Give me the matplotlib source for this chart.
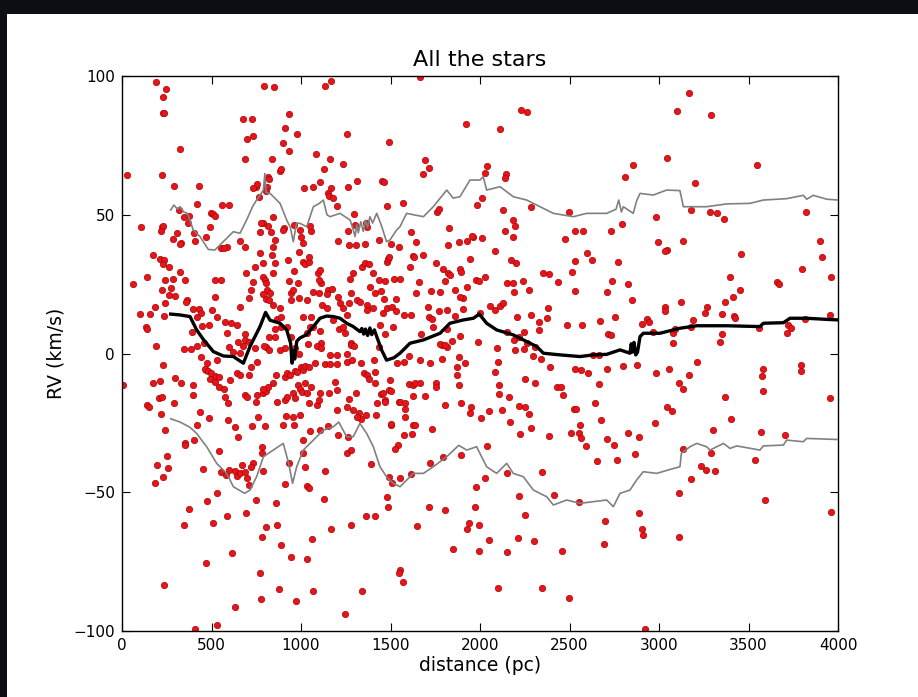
import matplotlib
matplotlib.use("Agg")
import matplotlib.pyplot as plt
from matplotlib.patches import Rectangle

# ---- stars: distance (pc) and radial velocity (km/s), grouped by area ----
dist_a = [30, 190, 231, 227, 235, 246, 223, 324, 290, 430,
          108, 223, 231, 220, 317, 309, 331, 324, 287, 372,
          369, 344, 417, 402, 406, 499, 507, 518, 469, 492,
          559, 596, 588, 659, 685, 674, 726, 696, 734, 685,
          749, 752, 730, 763, 790, 779, 771, 817, 834, 795,
          851, 816, 819, 808, 804, 836, 882, 886, 845, 838,
          857, 907, 897, 897, 912, 935, 935, 976, 961, 994,
          1002, 1017, 1011, 1058, 1050, 1069, 1106, 1084, 1128, 1162,
          1169, 1151, 1158, 1136, 1169, 1181, 1203, 1233, 1255, 1208,
          1261, 1294, 1301, 1263, 1311, 1307, 1357, 1270, 1363, 1367,
          1452, 1463, 1478, 1490, 1437, 1501]
rv_a = [64.3, 97.8, 92.3, 86.8, 86.6, 95.4, 64.3, 73.7, 60.5, 60.5,
        45.6, 45.7, 46.0, 44.3, 51.7, 43.6, 40.0, 39.5, 41.2, 49.7,
        47.0, 49.3, 53.8, 43.6, 40.5, 50.6, 50.1, 49.6, 42.1, 45.7,
        53.4, 53.4, 38.3, 40.5, 38.3, 84.5, 84.5, 77.3, 78.4, 70.1,
        60.1, 61.1, 59.6, 56.5, 47.2, 47.0, 43.7, 46.0, 43.7, 96.3,
        95.9, 63.5, 62.8, 60.1, 58.4, 70.1, 65.9, 66.6, 49.1, 35.5,
        40.8, 45.2, 44.5, 76.0, 81.3, 86.2, 73.0, 79.0, 46.2, 44.5,
        42.1, 59.8, 40.0, 44.3, 46.1, 60.1, 61.7, 71.8, 66.4, 70.2,
        59.5, 58.0, 56.9, 96.3, 98.3, 56.0, 53.3, 68.3, 79.1, 40.7,
        60.1, 50.2, 46.4, 44.3, 62.0, 39.0, 39.5, 39.0, 47.2, 45.7,
        62.1, 61.8, 53.3, 76.1, 40.9, 39.3]

dist_b = [175, 212, 235, 227, 63, 141, 100, 156, 134, 137,
          190, 186, 235, 261, 242, 287, 272, 264, 298, 223,
          242, 324, 350, 365, 358, 398, 432, 443, 449, 484,
          529, 391, 417, 346, 383, 417, 458, 521, 551, 518,
          503, 573, 607, 588, 555, 570, 693, 719, 734, 708,
          659, 685, 685, 644, 648, 745, 771, 790, 786, 797,
          804, 808, 790, 827, 842, 853, 845, 804, 819, 845,
          883, 864, 890, 853, 823, 804, 857, 935, 942, 957,
          942, 927, 961, 890, 920, 942, 991, 1009, 1024, 1043,
          1043, 984, 991, 1032, 1069, 1013, 1058, 1050, 1035, 1095,
          1106, 1110, 1099, 1102, 1117, 1069, 1106, 1110, 1151, 1147,
          1173, 1143, 1207, 1218, 1236, 1255, 1266, 1181, 1211, 1244,
          1281, 1233, 1274, 1277, 1292, 1311, 1329, 1367, 1367, 1341,
          1355, 1381, 1400, 1385, 1411, 1445, 1437, 1467, 1482, 1486,
          1493, 1519, 1400, 1478, 1508, 1531, 1471, 1516, 1441]
rv_b = [35.6, 34.1, 33.7, 32.1, 25.1, 27.5, 14.2, 14.2, 9.7, 8.7,
        2.8, 16.9, 13.6, 31.3, 26.5, 26.9, 23.7, 21.1, 20.6, 22.9,
        18.1, 29.5, 26.5, 19.3, 18.7, 15.9, 15.9, 14.5, 9.9, 10.2,
        13.0, 7.9, 13.3, 1.5, 1.5, 2.7, 3.9, 26.5, 26.5, 20.5,
        15.7, 11.2, 11.1, 7.3, 38.1, 37.9, 28.9, 22.9, 25.9, 19.9,
        16.9, 6.9, 4.9, 10.3, 4.3, 31.3, 36.1, 32.5, 27.7, 26.5,
        25.5, 22.9, 21.5, 21.7, 38.5, 32.5, 29.0, 19.6, 19.1, 17.5,
        16.3, 12.6, 9.7, 8.7, 6.1, 2.5, 5.8, 26.3, 21.7, 22.9,
        19.3, 33.8, 29.6, 13.3, 9.7, 6.1, 36.7, 33.1, 32.3, 32.8,
        34.9, 25.5, 19.9, 19.3, 22.1, 13.3, 13.3, 9.7, 7.5, 29.1,
        30.1, 25.3, 26.5, 21.7, 17.5, 9.7, 8.2, 3.7, 22.9, 21.5,
        23.1, 16.3, 20.5, 18.3, 16.3, 13.9, 18.1, 12.1, 8.7, 7.3,
        3.9, 9.7, 27.0, 21.7, 28.9, 19.1, 18.6, 17.5, 15.7, 31.3,
        32.5, 32.3, 29.0, 24.1, 21.7, 22.7, 26.5, 26.3, 33.1, 33.9,
        34.7, 26.7, 16.3, 16.3, 16.8, 19.8, 7.1, 9.7, 10.3]

dist_c = [1665, 1922, 2112, 2227, 2261, 3099, 1691, 1713, 1684, 2037,
          2026, 2145, 2142, 3046, 2853, 2808, 1568, 1762, 1769, 2011,
          1985, 2127, 2287, 2495, 2186, 2194, 2142, 2793, 2730, 2983,
          2529, 2573, 2477, 1616, 1825, 1959, 2011, 1549, 1643, 1624,
          1634, 1754, 1821, 1885, 1929, 1955, 2086, 1944, 2175, 2201,
          2182, 2994, 3043, 3035, 2596, 2626, 2771, 2529, 1553, 1609,
          1684, 1791, 1821, 1832, 1888, 1896, 1803, 1978, 1993, 2030,
          2149, 2186, 2238, 2190, 2276, 2354, 2384, 2436, 2514, 2533,
          2737, 2708, 2827, 2849, 1464, 1531, 1460, 1575, 1613, 1717,
          1730, 1736, 1672, 1643, 1661, 1724, 1777, 1862, 1907, 1926,
          1710, 1773, 1818, 1862, 1903, 1888, 2056, 2086, 2112, 2130,
          2000, 1888, 1814, 1788, 1814, 1844, 1989, 2093, 2149, 2190,
          2216, 2246, 2261, 2309, 2328, 2194, 2283, 2331, 2380, 2373,
          2205, 2484, 2570, 2670, 2715, 2730, 2756, 2935, 2946, 2905,
          3035, 3035, 3080, 3076, 3091, 2965]
rv_c = [99.8, 82.7, 80.8, 87.7, 87.0, 87.4, 69.7, 66.7, 64.6, 67.6,
        64.9, 64.7, 63.1, 70.5, 67.8, 63.5, 54.4, 51.1, 52.1, 55.9,
        53.5, 51.8, 52.9, 51.0, 48.1, 46.0, 44.3, 46.7, 44.0, 49.3,
        44.0, 44.3, 41.2, 43.9, 45.1, 42.1, 41.6, 38.3, 40.1, 35.1,
        34.6, 32.5, 39.0, 40.2, 40.5, 42.3, 37.0, 34.1, 33.7, 32.7,
        41.9, 40.3, 37.3, 36.8, 36.1, 33.7, 32.9, 33.2, 26.9, 31.3,
        35.5, 30.3, 29.1, 28.2, 30.3, 29.5, 26.3, 26.5, 26.3, 27.7,
        25.5, 25.5, 26.0, 22.3, 22.9, 28.9, 28.5, 25.7, 29.4, 22.4,
        26.0, 22.0, 25.1, 19.3, 19.5, 15.2, 14.5, 13.9, 13.9, 13.0,
        12.6, 9.7, 7.0, 21.7, 25.9, 22.4, 22.1, 22.9, 19.9, 24.1,
        16.9, 15.4, 15.7, 13.5, 15.9, 20.5, 17.1, 15.7, 17.1, 18.3,
        14.5, 6.3, 8.7, 3.0, 2.5, 4.4, 4.3, 1.9, 7.8, 4.9,
        6.1, 7.8, 3.7, 2.5, 8.5, 1.3, 13.9, 11.4, 16.4, 12.8,
        13.0, 10.4, 10.4, 11.6, 7.0, 6.8, 13.0, 12.3, 11.4, 10.6,
        16.7, 15.2, 3.7, 7.3, 8.7, 7.8]

dist_d = [3170, 3289, 3549, 3203, 3177, 3285, 3322, 3363, 3821, 3136,
          3900, 3911, 3460, 3397, 3657, 3672, 3799, 3959, 3453, 3415,
          3367, 3121, 3266, 3259, 3352, 3419, 3425, 3188, 3955, 3177,
          3721, 3739, 3717, 3817, 3557, 3352, 3341]
rv_d = [94.0, 86.1, 68.1, 61.3, 51.7, 51.0, 50.5, 48.6, 51.1, 40.4,
        40.4, 34.9, 35.7, 27.6, 25.9, 25.0, 30.5, 27.6, 22.9, 20.5,
        18.6, 18.6, 16.9, 14.5, 14.2, 13.5, 12.9, 12.1, 13.8, 9.7,
        10.4, 9.3, 7.3, 12.6, 9.2, 6.9, 4.3]

dist_e = [4, 231, 175, 212, 205, 223, 138, 149, 220, 242,
          290, 331, 298, 398, 398, 443, 469, 473, 518, 533,
          436, 421, 484, 250, 257, 231, 197, 186, 350, 354,
          402, 372, 346, 235, 406, 529, 469, 473, 454, 529,
          510, 588, 543, 555, 581, 600, 629, 644, 659, 670,
          696, 689, 711, 734, 723, 749, 614, 633, 693, 790,
          782, 782, 771, 775, 782, 804, 860, 886, 875, 868,
          912, 931, 946, 972, 1013, 1020, 1032, 1043, 1035, 1061,
          1065, 1128, 1132, 1166, 1248, 1277, 1341, 1363, 1415, 1389,
          1482, 1486, 1493, 1553, 1546, 1568]
rv_e = [-11.5, -4.0, -10.5, -9.8, -16.1, -15.8, -18.7, -19.2, -21.8, -27.6,
        -18.0, -10.5, -8.8, -11.5, -14.8, -1.4, -6.0, -3.6, -8.1, -2.4,
        -21.0, -25.9, -23.3, -37.0, -41.3, -44.6, -40.1, -46.6, -32.4, -33.1,
        -31.2, -55.9, -61.9, -83.5, -99.4, -98.0, -75.6, -53.3, -41.7, -50.4,
        -61.0, -58.6, -35.0, -42.7, -43.7, -42.0, -42.5, -44.2, -43.2, -40.3,
        -44.9, -42.7, -47.5, -39.6, -41.0, -52.8, -72.0, -91.5, -57.4, -42.2,
        -36.0, -33.8, -79.2, -88.4, -66.2, -62.4, -53.8, -68.9, -84.7, -61.9,
        -47.0, -39.3, -73.5, -89.1, -36.0, -40.8, -47.8, -48.5, -74.2, -66.7,
        -85.5, -52.6, -42.2, -63.4, -93.9, -61.7, -85.5, -58.6, -58.6, -39.8,
        -51.8, -55.2, -44.4, -78.0, -79.2, -82.3]

dist_f = [596, 622, 659, 674, 708, 745, 793, 823, 883, 912,
          965, 987, 1039, 1091, 1113, 1162, 1203, 1255, 1277, 1296,
          1333, 1408, 1434, 466, 480, 499, 492, 540, 521, 544,
          570, 603, 641, 659, 708, 719, 756, 786, 804, 816,
          845, 860, 912, 924, 938, 965, 979, 998, 1009, 1020,
          1046, 1080, 1132, 1162, 1203, 1259, 1285, 1352, 1367, 1382,
          1415, 1411, 1449, 1467, 1493, 1546]
rv_f = [2.4, 0.5, 0.3, 2.7, 4.1, 2.0, 2.7, 1.2, 1.2, 2.0,
        2.0, 0.0, 3.6, 2.7, 2.0, -0.4, -0.4, 0.0, 3.2, 2.7,
        -3.3, -2.4, 2.2, -5.5, -6.2, -7.2, -9.3, -8.6, -10.3, -12.0,
        -12.7, -9.6, -7.2, -7.6, -7.6, -4.8, -3.1, -14.4, -13.4, -12.0,
        -10.8, -7.6, -8.4, -6.9, -7.6, -6.2, -6.7, -5.0, -6.0, -4.5,
        -4.8, -3.3, -3.8, -3.8, -3.8, -3.1, -2.4, -7.2, -7.6, -9.3,
        -6.7, -10.8, -14.6, -16.8, -13.2, -17.5]

dist_g = [592, 573, 689, 696, 749, 752, 790, 864, 912, 920,
          957, 965, 983, 994, 1005, 1020, 1054, 1032, 1046, 1087,
          1102, 1106, 1158, 1192, 1203, 1199, 1259, 1266, 1292, 1307,
          1326, 1337, 1311, 1363, 1423, 1419, 1471, 1501, 592, 629,
          648, 726, 797, 760, 897, 916, 957, 961, 994, 1009,
          1050, 1106, 1151, 1207, 1255, 1277, 1262]
rv_g = [-17.7, -15.6, -14.8, -15.8, -17.5, -15.1, -12.9, -17.5, -16.8, -15.8,
        -14.4, -16.1, -11.2, -12.7, -13.9, -10.8, -12.2, -14.4, -18.0, -18.7,
        -16.8, -14.4, -14.1, -10.3, -13.2, -20.4, -19.2, -16.5, -20.4, -14.1,
        -21.6, -23.5, -23.0, -22.3, -18.0, -22.3, -17.4, -25.7, -24.0, -26.6,
        -30.0, -26.1, -26.1, -22.8, -25.7, -22.5, -23.0, -25.9, -22.3, -31.2,
        -27.8, -27.6, -26.1, -29.5, -36.0, -34.8, -30.0]

dist_h = [1777, 1806, 1881, 1873, 1914, 2101, 2246, 2294, 2339, 2391,
          2529, 2566, 2603, 2633, 2667, 2708, 2801, 2875, 2983, 3058,
          3113, 1575, 1602, 1665, 1721, 1788, 1538, 1497, 1456, 1505,
          1553, 1583, 1579, 1583, 1602, 1624, 1635, 1665, 1691, 1624,
          1754, 1754, 1806, 1873, 1881, 1896, 1944, 1952, 2007, 2048,
          2082, 2108, 2104, 2123, 2168, 2160, 2220, 2250, 2272, 2283,
          2223, 2250, 2305, 2428, 2454, 2465, 2387, 2510, 2525, 2536,
          2559, 2555, 2566, 2592, 2644, 2667, 2674, 2708, 2749, 2767,
          2655, 2827, 2868, 2890, 2979, 3043, 3072, 1501, 1624, 1635,
          1732, 1620, 1575, 1542, 1527, 1791, 1892, 2037, 2346, 2149,
          1721, 1553, 1613, 1508, 1713, 1806, 1978, 2026, 1970, 2216,
          2253, 2413, 2551, 2700, 2890, 2905, 2909, 3113, 3110, 1650,
          1940, 1929, 1996, 2048, 2212, 2302, 1851, 1992, 2153, 2458,
          2693, 2101, 2346, 2495, 2924]
rv_h = [3.4, 3.0, -1.2, -4.8, -3.6, -3.1, 1.5, -0.9, -1.9, -5.0,
        -5.5, -6.0, -7.0, -0.7, -0.7, -5.7, -4.5, -4.0, -7.2, -5.5,
        -10.8, -3.1, -0.9, -2.4, -3.3, -2.1, -3.3, -9.6, -14.4, -13.5,
        -17.5, -18.0, -20.1, -23.0, -11.0, -11.2, -10.8, -10.5, -15.3, -15.3,
        -10.8, -12.0, -18.7, -7.6, -11.5, -17.7, -21.3, -19.2, -23.3, -20.9,
        -6.7, -11.2, -14.6, -20.4, -24.7, -15.6, -19.0, -19.2, -21.8, -26.9,
        -29.0, -9.1, -10.5, -12.2, -12.2, -15.1, -29.7, -28.8, -20.1, -19.9,
        -25.7, -28.8, -30.5, -33.3, -17.7, -11.0, -24.0, -30.7, -32.9, -38.4,
        -38.9, -28.8, -36.2, -30.0, -24.9, -19.4, -20.9, -25.4, -25.9, -25.7,
        -27.3, -29.0, -29.5, -32.9, -34.3, -37.2, -36.5, -33.3, -42.7, -43.0,
        -39.3, -44.9, -43.4, -46.8, -55.2, -56.4, -48.0, -44.9, -55.4, -51.4,
        -58.3, -50.9, -53.5, -60.2, -57.6, -63.4, -65.5, -50.2, -66.3, -62.2,
        -61.2, -63.1, -61.9, -67.2, -66.5, -67.4, -70.6, -71.1, -71.5, -71.1,
        -68.7, -84.4, -84.4, -88.2, -99.2]

dist_i = [3214, 3166, 3136, 3583, 3575, 3583, 3795, 3795, 3955, 3367,
          3404, 3300, 3568, 3706, 3132, 3289, 3233, 3263, 3311, 3181,
          3538, 3590, 3959]
rv_i = [-3.1, -7.6, -12.7, -5.7, -8.1, -13.6, -4.3, -6.4, -16.0, -15.6,
        -23.5, -27.6, -28.3, -29.5, -34.5, -35.7, -40.5, -42.0, -42.5, -45.1,
        -38.4, -52.8, -57.1]

# ---- running mean and running spread of RV along distance ----
mean_dist = [272, 324, 380, 417, 454, 510, 566, 622, 678, 715,
             771, 802, 827, 883, 920, 942, 950, 958, 965, 976,
             994, 1032, 1069, 1106, 1143, 1181, 1218, 1255, 1292, 1329,
             1340, 1350, 1360, 1372, 1385, 1395, 1410, 1423, 1450, 1478,
             1520, 1553, 1609, 1684, 1777, 1832, 1907, 1963, 1996, 2037,
             2093, 2186, 2261, 2317, 2354, 2447, 2559, 2633, 2708, 2782,
             2838, 2845, 2852, 2860, 2870, 2880, 2894, 2913, 3006, 3117,
             3211, 3378, 3564, 3583, 3695, 3732, 3825, 3937, 4000]
mean_rv = [14.2, 13.9, 13.3, 8.5, 5.1, 0.7, -0.9, -1.1, -3.5, 2.5,
           9.7, 14.8, 12.0, 10.9, 8.5, 3.7, -3.5, 1.0, -2.0, 4.4,
           5.6, 6.8, 9.7, 12.7, 13.5, 13.3, 12.7, 10.9, 9.7, 7.9,
           9.0, 7.0, 8.8, 6.5, 9.2, 6.8, 8.5, 6.1, 1.3, -2.4,
           -1.5, 0.1, 3.7, 4.9, 7.3, 10.9, 12.1, 12.7, 14.2, 10.9,
           8.5, 6.7, 4.3, 2.5, 0.1, -0.5, -1.1, -0.5, -0.3, 1.3,
           0.1, 3.5, 0.5, 4.0, -0.5, 0.5, 6.1, 7.3, 7.3, 9.1,
           10.0, 10.0, 9.7, 10.9, 11.1, 12.7, 12.7, 12.3, 12.1]

upper_dist = [272, 290, 310, 324, 345, 365, 380, 398, 436, 482,
              519, 566, 622, 659, 696, 730, 752, 790, 798, 805,
              827, 883, 920, 940, 957, 975, 994, 1032, 1069, 1100,
              1125, 1145, 1162, 1218, 1274, 1290, 1302, 1312, 1320, 1334,
              1348, 1360, 1372, 1385, 1400, 1423, 1450, 1478, 1497, 1534,
              1553, 1590, 1684, 1739, 1814, 1850, 1888, 1944, 2000, 2018,
              2037, 2112, 2186, 2261, 2335, 2410, 2521, 2596, 2708, 2760,
              2775, 2790, 2801, 2856, 2875, 2894, 2968, 3043, 3117, 3136,
              3266, 3378, 3508, 3583, 3713, 3806, 3825, 3862, 3937, 4000]
upper_rv = [51.7, 53.5, 52.0, 52.9, 51.0, 50.5, 48.0, 44.5, 42.1, 37.5,
            37.3, 40.3, 43.9, 43.3, 48.1, 53.0, 55.3, 58.9, 64.9, 58.0,
            57.7, 54.1, 48.1, 45.5, 40.3, 47.0, 46.9, 45.7, 52.9, 54.0,
            55.3, 50.0, 49.3, 50.5, 48.1, 45.0, 42.1, 46.5, 43.5, 47.5,
            44.0, 48.0, 45.5, 49.3, 47.0, 50.5, 46.0, 40.3, 40.9, 44.5,
            45.7, 50.5, 49.3, 52.9, 58.9, 56.0, 56.5, 62.5, 62.5, 63.7,
            58.9, 60.1, 56.5, 55.3, 52.9, 50.5, 49.3, 50.5, 50.5, 52.0,
            55.3, 51.0, 52.9, 50.5, 55.0, 57.7, 57.1, 58.9, 58.7, 52.9,
            52.9, 53.9, 54.1, 55.3, 55.8, 57.0, 55.6, 57.0, 55.6, 55.3]

lower_dist = [272, 324, 380, 417, 473, 529, 585, 622, 685, 715,
              752, 790, 845, 901, 931, 953, 976, 1013, 1069, 1125,
              1181, 1211, 1255, 1292, 1329, 1367, 1404, 1441, 1478, 1516,
              1553, 1628, 1684, 1739, 1814, 1881, 1926, 1981, 2037, 2093,
              2149, 2186, 2242, 2298, 2372, 2410, 2484, 2559, 2633, 2708,
              2745, 2782, 2838, 2875, 2912, 2987, 3061, 3117, 3125, 3173,
              3211, 3266, 3285, 3360, 3397, 3434, 3564, 3583, 3695, 3713,
              3806, 3825, 4000]
lower_rv = [-23.5, -24.7, -26.6, -28.8, -33.6, -39.6, -43.2, -48.0, -50.4, -49.2,
            -44.4, -37.2, -34.8, -32.4, -39.6, -46.8, -40.8, -34.8, -31.2, -27.6,
            -26.4, -24.7, -30.0, -30.0, -25.2, -28.8, -33.6, -40.8, -44.4, -46.8,
            -48.0, -43.2, -43.2, -40.8, -37.2, -33.1, -34.8, -33.6, -40.8, -43.2,
            -39.6, -43.2, -44.4, -49.2, -51.6, -54.6, -52.8, -54.0, -53.4, -52.8,
            -55.2, -50.4, -49.2, -45.6, -42.6, -43.2, -41.8, -40.8, -36.0, -33.6,
            -32.4, -33.6, -34.8, -32.4, -34.2, -33.3, -34.8, -33.3, -33.0, -31.2,
            -31.8, -30.6, -31.0]

x_ticks = [0, 500, 1000, 1500, 2000, 2500, 3000, 3500, 4000]
y_ticks = [-100, -50, 0, 50, 100]

star_dist = (dist_a + dist_b + dist_c + dist_d + dist_e
             + dist_f + dist_g + dist_h + dist_i)
star_rv = rv_a + rv_b + rv_c + rv_d + rv_e + rv_f + rv_g + rv_h + rv_i
if len(star_dist) != len(star_rv):
    raise ValueError("distance / RV lists differ in length")

# ---- figure: dark frame with a white canvas inside ----
W, H = 918, 697
fig = plt.figure(figsize=(W / 100, H / 100), dpi=100, facecolor="#0b0e13")
canvas = Rectangle((7 / W, 0), 1, 1 - 14 / H, transform=fig.transFigure,
                   facecolor="white", edgecolor="none", zorder=-10)
fig.add_artist(canvas)

ax = fig.add_axes([122 / W, 66 / H, 716 / W, 555 / H], zorder=1)
ax.scatter(star_dist, star_rv, s=21, c="#e3161c", edgecolors="#b00000",
           linewidths=0.5, zorder=2)
ax.plot(upper_dist, upper_rv, color="#808080", lw=1.2, zorder=3)
ax.plot(lower_dist, lower_rv, color="#808080", lw=1.2, zorder=3)
ax.plot(mean_dist, mean_rv, color="black", lw=2.4, zorder=4)

ax.set_xlim(0, 4000)
ax.set_ylim(-100, 100)
ax.set_xticks(x_ticks)
ax.set_yticks(y_ticks)
ax.tick_params(direction="in", top=True, right=True, length=5.5, width=0.8,
               labelsize=11, pad=5, colors="black")
for sp in ax.spines.values():
    sp.set_linewidth(1.0)

ax.set_title("All the stars", fontsize=16, pad=7)
ax.set_xlabel("distance (pc)", fontsize=13.5, labelpad=2)
ax.set_ylabel("RV (km/s)", fontsize=13.5, labelpad=6)

fig.savefig("out.png", dpi=100, facecolor=fig.get_facecolor())
